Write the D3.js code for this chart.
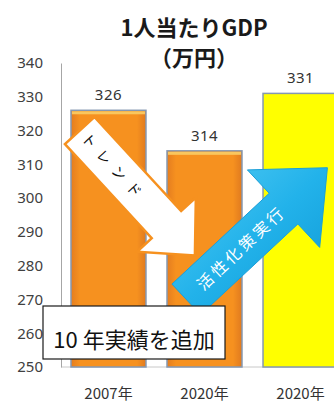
<!DOCTYPE html>
<html>
<head>
<meta charset="utf-8">
<script src="https://cdn.jsdelivr.net/npm/d3@7"></script>
<style>
  body { margin: 0; background: #fff; }
  svg { display: block; }
</style>
</head>
<body>
<svg id="chart"></svg>
<script>
'use strict';

const WIDTH = 334;
const HEIGHT = 402;

// data
const categories = ["2007年", "2020年", "2020年"];
const values = [326, 314, 331];
const seriesKind = ["実績", "実績", "目標"];
const yTicks = [250, 260, 270, 280, 290, 300, 310, 320, 330, 340];
const titleLines = ["1人当たりGDP", "（万円）"];
const trendLabel = "トレンド";
const policyLabel = "活性化策実行";
const noteLabel = "10 年実績を追加";

const svg = d3.select("svg#chart")
              .attr("width", WIDTH)
              .attr("height", HEIGHT);

const x = d3.scaleBand()
            .domain(d3.range(categories.length))
            .range([61, 348])
            .paddingInner(0.219)
            .paddingOuter(0.104);

const y = d3.scaleLinear()
            .domain([250, 340])
            .range([367, 63]);

// fractional category position -> pixel (annotations sit between bars)
const xPos = d3.scaleLinear()
               .domain([0, 1])
               .range([x(0) + x.bandwidth() / 2, x(1) + x.bandwidth() / 2]);

const color = d3.scaleOrdinal()
                .domain(["実績", "目標"])
                .range(["url(#orangeGrad)", "#FFFF00"]);

const defs = svg.append("defs");
const og = defs.append("linearGradient").attr("id", "orangeGrad")
               .attr("x1", 0).attr("x2", 1).attr("y1", 0).attr("y2", 0);
[[0, "#E47D20"], [0.12, "#F6911F"], [0.88, "#F6911F"], [1, "#E07A1F"]]
    .forEach(s => og.append("stop").attr("offset", s[0]).attr("stop-color", s[1]));
const bg = defs.append("linearGradient").attr("id", "blueGrad")
               .attr("x1", 0).attr("x2", 1).attr("y1", 0).attr("y2", 1);
[[0, "#55CCF4"], [0.5, "#22B2EA"], [1, "#0E97D3"]]
    .forEach(s => bg.append("stop").attr("offset", s[0]).attr("stop-color", s[1]));

// title
svg.append("g")
   .selectAll("text")
   .data(titleLines)
   .enter()
   .append("text")
   .attr("x", 194)
   .attr("y", (d, i) => 36 + i * 30)
   .attr("text-anchor", "middle")
   .attr("font-family", "'Noto Sans CJK JP', sans-serif")
   .attr("font-weight", "bold")
   .attr("font-size", 22)
   .attr("fill", "#1a1a1a")
   .text(d => d);

// baseline
svg.append("line")
   .attr("x1", 61).attr("x2", WIDTH)
   .attr("y1", y(250)).attr("y2", y(250))
   .attr("stroke", "#C8C8C8");

// y axis
const yAxis = d3.axisLeft(y)
                .tickValues(yTicks)
                .tickSize(0)
                .tickSizeOuter(0)
                .tickPadding(18);
const yg = svg.append("g")
              .attr("transform", "translate(61,0)")
              .call(yAxis);
yg.select(".domain").attr("stroke", "#A6A6A6");
yg.selectAll("text")
  .attr("font-family", "'Noto Sans', sans-serif")
  .attr("font-size", 15)
  .attr("fill", "#404040");

// x axis
const xAxis = d3.axisBottom(x)
                .tickSize(0)
                .tickPadding(21)
                .tickFormat(i => categories[i]);
const xg = svg.append("g")
              .attr("transform", "translate(0," + y(250) + ")")
              .call(xAxis);
xg.select(".domain").remove();
xg.selectAll("text")
  .attr("font-family", "'Noto Sans CJK JP', sans-serif")
  .attr("font-size", 15)
  .attr("fill", "#333");

// bars
const bars = svg.append("g")
                .selectAll("rect")
                .data(values)
                .enter();
bars.append("rect")
    .attr("x", (d, i) => x(i))
    .attr("y", d => y(d))
    .attr("width", x.bandwidth())
    .attr("height", d => y(250) - y(d))
    .attr("fill", (d, i) => color(seriesKind[i]))
    .attr("stroke", "#8598B2")
    .attr("stroke-width", 1.5);
bars.filter((d, i) => seriesKind[i] == "実績")
    .append("rect")
    .attr("x", (d, i) => x(i) + 1)
    .attr("y", d => y(d) + 1)
    .attr("width", x.bandwidth() - 2)
    .attr("height", 3)
    .attr("fill", "#F9C65E");

// value labels
svg.append("g")
   .selectAll("text")
   .data(values)
   .enter()
   .append("text")
   .attr("x", (d, i) => x(i) + x.bandwidth() / 2)
   .attr("y", d => y(d) - 10)
   .attr("text-anchor", "middle")
   .attr("font-family", "'Noto Sans', sans-serif")
   .attr("font-size", 15)
   .attr("letter-spacing", 0.5)
   .attr("fill", "#333")
   .text(d => d);

// arrow helper: tail -> tip, returns polygon
const arrowPoints = (a, b, sw, hw, hl) => {
    const dx = b[0] - a[0], dy = b[1] - a[1];
    const L = Math.hypot(dx, dy), ux = dx / L, uy = dy / L;
    const px = -uy, py = ux;
    const hx = b[0] - ux * hl, hy = b[1] - uy * hl;
    return [
        [a[0] + px * sw / 2, a[1] + py * sw / 2],
        [hx + px * sw / 2, hy + py * sw / 2],
        [hx + px * hw / 2, hy + py * hw / 2],
        b,
        [hx - px * hw / 2, hy - py * hw / 2],
        [hx - px * sw / 2, hy - py * sw / 2],
        [a[0] - px * sw / 2, a[1] - py * sw / 2]
    ];
};

const drawArrow = (tail, tip, opts) => {
    const a = [xPos(tail[0]), y(tail[1])];
    const b = [xPos(tip[0]), y(tip[1])];
    const g = svg.append("g");
    g.append("polygon")
     .attr("points", arrowPoints(a, b, opts.sw, opts.hw, opts.hl).map(p => p.join(",")).join(" "))
     .attr("fill", opts.fill)
     .attr("stroke", opts.stroke)
     .attr("stroke-width", opts.strokeWidth)
     .attr("stroke-linejoin", "miter");
    const ang = Math.atan2(b[1] - a[1], b[0] - a[0]) * 180 / Math.PI;
    const t = opts.textAt;
    const cx = a[0] + (b[0] - a[0]) * t, cy = a[1] + (b[1] - a[1]) * t;
    g.append("text")
     .attr("transform", "translate(" + cx + "," + cy + ") rotate(" + ang + ")")
     .attr("text-anchor", "middle")
     .attr("dy", "0.36em")
     .attr("font-family", "'Noto Sans CJK JP', sans-serif")
     .attr("font-size", opts.fontSize)
     .attr("letter-spacing", opts.spacing)
     .attr("fill", opts.textColor)
     .text(opts.label);
};

// "トレンド" white arrow, down-right
drawArrow([-0.30, 320], [0.90, 283], {
    sw: 40, hw: 80, hl: 42,
    fill: "#FFFFFF", stroke: "#F6911F", strokeWidth: 2.5,
    textAt: 0.3, fontSize: 14, spacing: 8, textColor: "#111", label: trendLabel
});

// "活性化策実行" blue arrow, up-right
drawArrow([0.81, 270], [2.28, 309], {
    sw: 42, hw: 106, hl: 60,
    fill: "url(#blueGrad)", stroke: "#1A9FD8", strokeWidth: 1,
    textAt: 0.39, fontSize: 16, spacing: 3, textColor: "#FFFFFF", label: policyLabel
});

// note box
const note = svg.append("g");
note.append("rect")
    .attr("x", 43).attr("y", 306)
    .attr("width", 182).attr("height", 53)
    .attr("fill", "#fff")
    .attr("stroke", "#1a1a1a")
    .attr("stroke-width", 1.2);
note.append("text")
    .attr("x", 134).attr("y", 348)
    .attr("text-anchor", "middle")
    .attr("font-family", "'Noto Sans CJK JP', sans-serif")
    .attr("font-size", 22)
    .attr("fill", "#111")
    .text(noteLabel);
</script>
</body>
</html>
